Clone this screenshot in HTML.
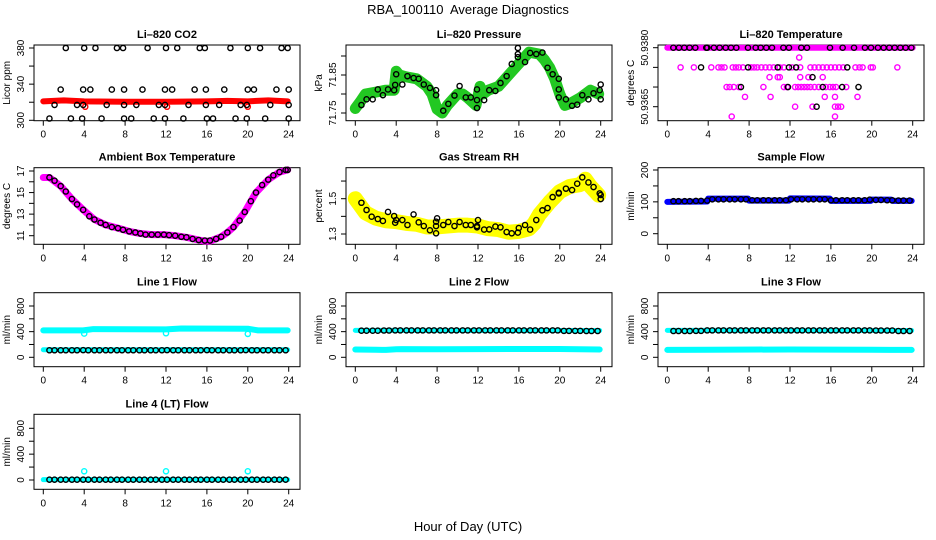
<!DOCTYPE html>
<html><head><meta charset="utf-8"><style>
html,body{margin:0;padding:0;background:#fff;}
svg{display:block;font-family:"Liberation Sans",Arial,sans-serif;}
</style></head><body>
<svg id="chart" width="936" height="540" viewBox="0 0 936 540" xmlns="http://www.w3.org/2000/svg">
<rect width="936" height="540" fill="#fff"/>
<text x="468" y="14" text-anchor="middle" font-size="13">RBA_100110&#160; Average Diagnostics</text>
<text x="468" y="531" text-anchor="middle" font-size="13">Hour of Day (UTC)</text>
</svg>
<script>
const xTicks=[0,4,8,12,16,20,24];
const avgHours=[0.6,1.1,1.7,2.2,2.8,3.3,3.9,4.4,5.0,5.5,6.1,6.6,7.2,7.7,8.3,8.8,9.4,9.9,10.5,11.0,11.6,12.1,12.7,13.2,13.8,14.3,14.9,15.4,16.0,16.5,17.1,17.6,18.2,18.7,19.3,19.8,20.4,20.9,21.5,22.0,22.6,23.1,23.7];
// CO2
const co2Hours=[2.2,4.0,5.1,7.2,7.8,10.2,12.0,13.1,15.3,15.8,18.3,20.0,21.2,23.3,23.9,1.7,3.9,4.6,6.7,7.9,9.7,11.9,12.6,14.8,15.9,17.7,20.0,20.6,22.8,24.0,1.1,3.3,3.9,6.2,7.9,9.1,11.3,11.9,14.2,15.9,17.2,19.3,19.9,22.2,24.0,0.6,2.7,3.8,5.7,7.9,8.6,10.8,11.9,13.7,16.0,16.6,18.8,19.9,21.7,24.0];
const co2Vals=[380,380,380,380,380,380,380,380,380,380,380,380,380,380,380,334,334,334,334,334,334,334,334,334,334,334,334,334,334,334,317,317,317,317,317,317,317,317,317,317,317,317,317,317,317,302,302,302,302,302,302,302,302,302,302,302,302,302,302,302];
const co2BandHours=[0,2,4,8,12,16,18,20,22,23.9];
const co2BandVals=[321,322,321,320.5,320.5,321,321.5,321,322,321];
const co2OutHours=[4.1,12.1,20.0];
const co2OutVals=[315,315,315];
// Pressure
const presHours=[0.6,1.1,1.7,2.2,2.7,3.2,3.8,3.9,4.0,4.6,5.1,5.7,6.2,6.7,7.3,7.9,7.9,8.6,9.1,9.7,10.2,10.8,11.3,11.9,11.9,11.9,12.6,13.1,13.7,14.2,14.8,15.3,15.9,15.9,15.9,16.6,17.1,17.7,18.3,18.8,19.3,19.9,19.9,19.9,20.6,21.2,21.7,22.2,22.8,23.3,23.9,24.0,24.0];
const presVals=[71.771,71.786,71.786,71.812,71.797,71.812,71.810,71.824,71.852,71.825,71.847,71.842,71.840,71.825,71.816,71.810,71.797,71.756,71.774,71.796,71.821,71.791,71.791,71.784,71.763,71.812,71.784,71.810,71.808,71.829,71.847,71.879,71.897,71.905,71.921,71.884,71.908,71.905,71.909,71.869,71.852,71.840,71.812,71.791,71.786,71.769,71.772,71.797,71.786,71.802,71.810,71.825,71.786];
const presBandHours=[0,0.5,1,2,3,3.8,4.0,4.3,5,6,7,7.5,8,8.5,9,10,10.5,11,11.8,12.2,12.5,13,14,15,16,17,18,18.5,19,19.5,20,20.5,21,22,23,23.8];
const presBandVals=[71.762,71.78,71.8,71.805,71.81,71.81,71.86,71.85,71.845,71.84,71.82,71.8,71.76,71.75,71.77,71.8,71.8,71.79,71.77,71.82,71.8,71.81,71.82,71.85,71.88,71.91,71.905,71.89,71.87,71.84,71.8,71.77,71.775,71.79,71.81,71.8];
// Li-820 Temperature
const tempBlackHours=[0.59,1.14,1.66,2.18,2.74,3.81,3.91,4.56,5.12,5.71,6.23,6.75,7.89,8.64,9.13,9.68,10.24,11.35,11.9,13.1,13.66,15.91,17.15,18.26,19.33,19.92,20.6,21.16,21.71,22.24,22.79,23.31,23.87,3.3,7.9,10.8,11.9,12.6,17.6,14.2,7.2,11.8,15.2,17.1,18.7,14.6];
const tempBlackVals=[50.938,50.938,50.938,50.938,50.938,50.938,50.938,50.938,50.938,50.938,50.938,50.938,50.938,50.938,50.938,50.938,50.938,50.938,50.938,50.938,50.938,50.938,50.938,50.938,50.938,50.938,50.938,50.938,50.938,50.938,50.938,50.938,50.938,50.9375,50.9375,50.9375,50.9375,50.9375,50.9375,50.93725,50.937,50.937,50.937,50.937,50.937,50.9365];
const tempMagHours=[12.9,1.3,2.6,4.3,5.0,5.3,5.6,6.4,6.7,7.0,7.4,8.2,8.5,8.8,9.2,9.6,10.0,10.4,11.0,11.4,12.2,13.0,14.0,14.4,14.8,15.2,15.6,16.0,16.4,16.8,17.2,18.4,18.8,19.1,19.9,20.1,22.5,10.0,10.8,11.0,13.0,13.8,15.2,5.8,6.1,6.5,7.0,9.4,11.4,11.7,12.5,12.8,13.1,13.4,13.7,14.0,14.4,14.8,15.5,15.9,16.2,16.5,17.5,7.6,10.1,15.4,16.4,18.6,12.5,14.2,16.4,16.7,17.0,6.3,16.4];
const tempMagVals=[50.93775,50.9375,50.9375,50.9375,50.9375,50.9375,50.9375,50.9375,50.9375,50.9375,50.9375,50.9375,50.9375,50.9375,50.9375,50.9375,50.9375,50.9375,50.9375,50.9375,50.9375,50.9375,50.9375,50.9375,50.9375,50.9375,50.9375,50.9375,50.9375,50.9375,50.9375,50.9375,50.9375,50.9375,50.9375,50.9375,50.9375,50.93725,50.93725,50.93725,50.93725,50.93725,50.93725,50.937,50.937,50.937,50.937,50.937,50.937,50.937,50.937,50.937,50.937,50.937,50.937,50.937,50.937,50.937,50.937,50.937,50.937,50.937,50.937,50.93675,50.93675,50.93675,50.93675,50.93675,50.9365,50.9365,50.9365,50.9365,50.9365,50.93625,50.93625];
const tempBandHours=[0,24];
const tempBandVals=[50.938,50.938];
// Ambient
const ambHours=[0.6,1.1,1.7,2.2,2.8,3.3,3.9,4.5,5.0,5.6,6.1,6.7,7.3,7.8,8.4,9.0,9.5,10.0,10.6,11.2,11.8,12.3,12.9,13.5,14.0,14.6,15.2,15.8,16.3,16.9,17.4,18.0,18.6,19.2,19.7,20.3,20.8,21.4,22.0,22.5,23.1,23.7,23.9];
const ambVals=[16.4,16.1,15.6,15.1,14.4,13.9,13.4,12.8,12.5,12.2,12.0,11.8,11.7,11.55,11.4,11.3,11.2,11.1,11.1,11.1,11.1,11.05,11.0,10.9,10.85,10.7,10.6,10.55,10.55,10.7,10.9,11.3,11.8,12.4,13.2,14.2,15.0,15.7,16.2,16.6,16.9,17.1,17.1];
const ambBandHours=[0,0.6,1.7,2.8,3.9,5.0,6.1,7.3,8.4,9.5,10.6,11.8,12.9,14.0,15.2,15.8,16.3,17.4,18.0,18.6,19.7,20.8,22.0,23.1,23.9];
const ambBandVals=[16.4,16.4,15.6,14.4,13.4,12.5,12.0,11.7,11.4,11.2,11.1,11.1,11.0,10.85,10.6,10.5,10.5,10.9,11.3,11.8,13.2,15.0,16.2,16.9,17.1];
// RH
const rhHours=[0.6,1.1,1.6,2.2,2.7,3.2,3.8,3.9,4.0,4.6,5.1,5.7,6.2,6.7,7.3,7.9,7.9,7.9,8.0,8.6,9.1,9.7,10.2,10.8,11.3,11.9,11.9,12.0,12.6,13.1,13.7,14.2,14.8,15.3,15.9,15.99,16.6,17.1,17.7,18.3,18.8,19.3,19.9,19.9,20.6,21.2,21.7,22.2,22.8,23.3,23.9,24.0,24.0];
const rhVals=[1.477,1.436,1.398,1.385,1.374,1.425,1.402,1.364,1.379,1.379,1.351,1.411,1.366,1.345,1.321,1.304,1.345,1.370,1.389,1.351,1.368,1.345,1.368,1.351,1.351,1.345,1.338,1.379,1.325,1.326,1.342,1.338,1.311,1.304,1.308,1.334,1.351,1.325,1.379,1.434,1.447,1.509,1.530,1.534,1.557,1.549,1.585,1.621,1.592,1.566,1.530,1.521,1.498];
const rhBandHours=[0,0.5,1,2,3,4,5,6,7,8,9,10,11,12,13,14,15,16,17,17.5,18,19,20,21,22,22.5,23,23.8];
const rhBandVals=[1.5,1.46,1.42,1.39,1.375,1.37,1.36,1.355,1.34,1.34,1.345,1.35,1.35,1.345,1.33,1.325,1.31,1.315,1.33,1.36,1.41,1.48,1.54,1.57,1.58,1.61,1.57,1.52];
// Sample flow
const sampleVals=[102,102,102,102,103,103,104,108,108,108,108,108,108,108,105,105,105,105,105,105,105,108,108,108,108,108,108,108,105,105,105,105,105,105,105,107,106,106,105,105,104,104,104];
const sampleBandHours=[0,3.9,4.0,7.9,8.0,11.9,12.0,15.9,16.0,19.9,20.0,21.9,22.0,23.9];
const sampleBandVals=[100,101,110,110,104,104,111,110,103,103,107,107,103,103];
// Line flows
const line1Vals=[110,110,110,110,110,110,112,110,110,110,110,110,110,110,110,110,110,110,110,110,110,112,110,110,110,110,110,110,112,110,110,110,110,110,110,112,110,110,110,110,110,110,110];
const line1HighHours=[0,3.9,4.9,12.0,13.5,20.0,21,23.9];
const line1HighVals=[420,420,440,435,450,445,420,420];
const line1LowHours=[0,23.9];
const line1LowVals=[118,118];
const line1OutHours=[4.0,12.0,20.0];
const line1OutVals=[370,375,365];
const line2Vals=[415,415,415,415,418,418,420,420,420,420,420,420,420,420,420,420,420,420,420,420,420,420,420,420,420,420,420,420,420,420,420,420,420,420,420,420,412,412,412,412,410,410,410];
const line2HighHours=[0,23.9];
const line2HighVals=[420,418];
const line2LowHours=[0,2,3,4,4.5,8,12,20,23.9];
const line2LowVals=[122,118,115,125,128,125,128,130,122];
const line3Vals=[410,410,410,410,412,412,420,420,420,420,420,420,420,420,420,420,420,420,420,420,420,420,420,420,420,420,420,420,420,420,420,420,420,420,420,420,418,418,418,418,410,410,410];
const line3HighHours=[0,23.9];
const line3HighVals=[420,418];
const line3LowHours=[0,4,12,20,23.9];
const line3LowVals=[115,118,122,118,115];
const line4Vals=[5,5,5,5,5,5,5,5,5,5,5,5,5,5,5,5,5,5,5,5,5,5,5,5,5,5,5,5,5,5,5,5,5,5,5,5,5,5,5,5,5,5,5];
const line4BandHours=[0,23.9];
const line4BandVals=[5,5];
const line4OutHours=[4.0,12.0,20.0];
const line4OutVals=[135,135,135];

const svg=document.getElementById('chart');
const NS='http://www.w3.org/2000/svg';
function mk(tag,parent){const e=document.createElementNS(NS,tag);parent.appendChild(e);return e;}

function makePanel(name,left,top,bottom,title,ylab,v0,p0,v1,p1,ticks,labels){
  const g=mk('g',svg);
  
  
  const xs=h=>43.3-34+left+h*(245.4/24);
  const ys=v=>p0+(v-v0)*(p1-p0)/(v1-v0);
  const t=mk('text',g);
  
  
  t.setAttribute('x',left+133);t.setAttribute('y',top-7);t.setAttribute('text-anchor','middle');
  t.setAttribute('font-size','11');t.setAttribute('font-weight','bold');t.textContent=title;
  const yl=mk('text',g);
  
  
  const cy=(top+bottom)/2;
  yl.setAttribute('transform','translate('+(left-24)+','+cy+') rotate(-90)');
  yl.setAttribute('text-anchor','middle');yl.setAttribute('font-size','10');yl.textContent=ylab;
  const box=mk('rect',g);
  
  
  box.setAttribute('x',left);box.setAttribute('y',top);box.setAttribute('width',266);box.setAttribute('height',bottom-top);
  box.setAttribute('fill','none');box.setAttribute('stroke','#000');box.setAttribute('stroke-width','1');
  const ax=mk('g',g);
  
  
  xTicks.forEach(h=>{
    const l=mk('line',ax);l.setAttribute('x1',xs(h));l.setAttribute('x2',xs(h));l.setAttribute('y1',bottom);l.setAttribute('y2',bottom+5);l.setAttribute('stroke','#000');
    const tx=mk('text',ax);tx.setAttribute('x',xs(h));tx.setAttribute('y',bottom+17);tx.setAttribute('text-anchor','middle');tx.setAttribute('font-size','10');tx.textContent=h;
  });
  const ay=mk('g',g);
  
  
  ticks.forEach((v,i)=>{
    const l=mk('line',ay);l.setAttribute('x1',left-5);l.setAttribute('x2',left);l.setAttribute('y1',ys(v));l.setAttribute('y2',ys(v));l.setAttribute('stroke','#000');
    if(labels[i]!==''){const tx=mk('text',ay);tx.setAttribute('transform','translate('+(left-10)+','+ys(v)+') rotate(-90)');tx.setAttribute('text-anchor','middle');tx.setAttribute('font-size','10');tx.textContent=labels[i];}
  });
  return {g,xs,ys};
}
function band(p,nm,hs,vs,color,w){
  const pl=mk('polyline',p.g);
  
  
  pl.setAttribute('points',hs.map((h,i)=>p.xs(h)+','+p.ys(vs[i])).join(' '));
  pl.setAttribute('fill','none');pl.setAttribute('stroke',color);pl.setAttribute('stroke-width',w);
  pl.setAttribute('stroke-linejoin','round');pl.setAttribute('stroke-linecap','round');
}
function pts(p,nm,hs,vs,color){
  const gg=mk('g',p.g);
  
  
  hs.forEach((h,i)=>{const c=mk('circle',gg);c.setAttribute('cx',p.xs(h));c.setAttribute('cy',p.ys(vs[i]));c.setAttribute('r',2.6);c.setAttribute('fill','none');c.setAttribute('stroke',color);c.setAttribute('stroke-width',1.4);});
}
let p;
p=makePanel('co2',34,45,120.7,'Li\u2013820 CO2','Licor ppm',300,120.3,380,48,[300,320,340,360,380],['300','','340','','380']);
band(p,'co2-band',co2BandHours,co2BandVals,'#ff0000',6);
pts(p,'co2-outliers',co2OutHours,co2OutVals,'#ff0000');
pts(p,'co2-averages',co2Hours,co2Vals,'#000');

p=makePanel('pressure',346,45,120.7,'Li\u2013820 Pressure','kPa',71.75,113,71.85,75,[71.75,71.80,71.85,71.90],['71.75','','71.85','']);
band(p,'pressure-band',presBandHours,presBandVals,'#22c822',11);
pts(p,'pressure-averages',presHours,presVals,'#000');

p=makePanel('li820-temp',658,45,120.7,'Li\u2013820 Temperature','degrees C',50.938,47.7,50.9365,106.7,[50.938,50.9375,50.937,50.9365],['50.9380','','','50.9365']);
band(p,'temp-band',tempBandHours,tempBandVals,'#ff00ff',6);
pts(p,'temp-magenta-points',tempMagHours,tempMagVals,'#ff00ff');
pts(p,'temp-averages',tempBlackHours,tempBlackVals,'#000');

p=makePanel('ambient',34,167.7,244.3,'Ambient Box Temperature','degrees C',11,235.7,17,171,[11,12,13,14,15,16,17],['11','','13','','15','','17']);
band(p,'ambient-band',ambBandHours,ambBandVals,'#ff00ff',7);
pts(p,'ambient-averages',ambHours,ambVals,'#000');

p=makePanel('rh',346,167.7,244.3,'Gas Stream RH','percent',1.3,234,1.5,198.7,[1.3,1.4,1.5,1.6],['1.3','','1.5','']);
band(p,'rh-band',rhBandHours,rhBandVals,'#ffff00',15);
pts(p,'rh-averages',rhHours,rhVals,'#000');

p=makePanel('sample-flow',658,167.7,244.3,'Sample Flow','ml/min',0,233.7,200,170,[0,50,100,150,200],['0','','100','','200']);
band(p,'sample-band',sampleBandHours,sampleBandVals,'#0000ff',6);
pts(p,'sample-averages',avgHours,sampleVals,'#000');

const lt=[0,200,400,600,800],ll=['0','','400','','800'];
p=makePanel('line1',34,292.7,366.7,'Line 1 Flow','ml/min',0,357.3,800,306,lt,ll);
band(p,'line1-high-band',line1HighHours,line1HighVals,'#00ffff',6);
band(p,'line1-low-band',line1LowHours,line1LowVals,'#00ffff',5);
pts(p,'line1-outliers',line1OutHours,line1OutVals,'#00ffff');
pts(p,'line1-averages',avgHours,line1Vals,'#000');

p=makePanel('line2',346,292.7,366.7,'Line 2 Flow','ml/min',0,357.3,800,306,lt,ll);
band(p,'line2-high-band',line2HighHours,line2HighVals,'#00ffff',5);
band(p,'line2-low-band',line2LowHours,line2LowVals,'#00ffff',6);
pts(p,'line2-averages',avgHours,line2Vals,'#000');

p=makePanel('line3',658,292.7,366.7,'Line 3 Flow','ml/min',0,357.3,800,306,lt,ll);
band(p,'line3-high-band',line3HighHours,line3HighVals,'#00ffff',5);
band(p,'line3-low-band',line3LowHours,line3LowVals,'#00ffff',6);
pts(p,'line3-averages',avgHours,line3Vals,'#000');

p=makePanel('line4',34,414.3,489.3,'Line 4 (LT) Flow','ml/min',0,480,800,428.3,lt,ll);
band(p,'line4-band',line4BandHours,line4BandVals,'#00ffff',5);
pts(p,'line4-outliers',line4OutHours,line4OutVals,'#00ffff');
pts(p,'line4-averages',avgHours,line4Vals,'#000');
</script>
</body></html>
